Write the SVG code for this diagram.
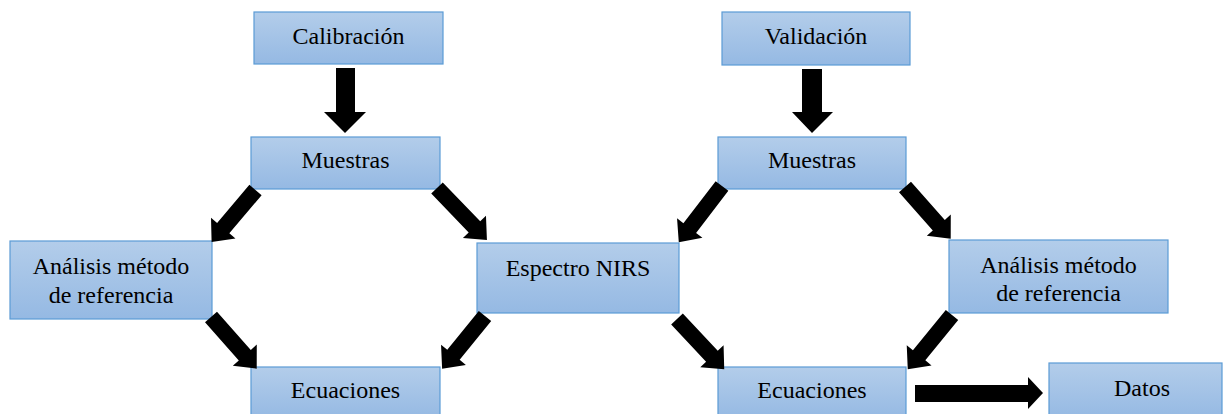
<svg xmlns="http://www.w3.org/2000/svg" width="1225" height="414" viewBox="0 0 1225 414">
<defs>
<linearGradient id="g" x1="0" y1="0" x2="0" y2="1">
<stop offset="0" stop-color="#b3cdea"/>
<stop offset="1" stop-color="#95b9e3"/>
</linearGradient>
<style>
.box{fill:url(#g);stroke:#5b9bd5;stroke-width:1.2}
.t{font-family:"Liberation Serif","Times New Roman",serif;font-size:24px;fill:#000;text-anchor:middle}
.ar{fill:#000}
</style>
</defs>
<rect width="1225" height="414" fill="#fff"/>
<g id="calibracion"><rect class="box" x="254" y="12" width="189" height="52"/><text class="t" x="348.5" y="44">Calibración</text></g>
<g id="muestras1"><rect class="box" x="251" y="137" width="189" height="52"/><text class="t" x="345.5" y="168">Muestras</text></g>
<g id="analisis1"><rect class="box" x="10" y="241" width="202" height="78"/><text class="t" x="111" y="274">Análisis método</text><text class="t" x="111" y="303">de referencia</text></g>
<g id="espectro"><rect class="box" x="477" y="243" width="202" height="70"/><text class="t" x="578" y="276">Espectro NIRS</text></g>
<g id="ecuaciones1"><rect class="box" x="251" y="367" width="189" height="52"/><text class="t" x="345.5" y="398">Ecuaciones</text></g>
<g id="validacion"><rect class="box" x="722" y="12" width="188" height="53"/><text class="t" x="816" y="44">Validación</text></g>
<g id="muestras2"><rect class="box" x="718" y="137" width="188" height="52"/><text class="t" x="812" y="168">Muestras</text></g>
<g id="analisis2"><rect class="box" x="949" y="240" width="219" height="73"/><text class="t" x="1058.5" y="273">Análisis método</text><text class="t" x="1058.5" y="301">de referencia</text></g>
<g id="ecuaciones2"><rect class="box" x="718" y="367" width="188" height="52"/><text class="t" x="812" y="398">Ecuaciones</text></g>
<g id="datos"><rect class="box" x="1049" y="363" width="173" height="56"/><text class="t" x="1142" y="396">Datos</text></g>
<g id="connectors" class="ar">
<path d="M336,68 H355 V112 H366 L345,133 L324,112 H336 Z"/>
<path d="M802,69 H822 V112 H833 L812,133 L792,112 H802 Z"/>
<path d="M915,385 H1028 V377 L1043,393 L1028,409 V402 H915 Z"/>
<path transform="translate(255.5,190) rotate(130.2)" d="M0,-8 H50 V-16 L68,0 L50,16 V8 H0 Z"/>
<path transform="translate(437,188) rotate(46.1)" d="M0,-8 H54 V-16 L72,0 L54,16 V8 H0 Z"/>
<path transform="translate(211,317) rotate(48.5)" d="M0,-8 H51 V-16 L69,0 L51,16 V8 H0 Z"/>
<path transform="translate(485,316) rotate(129.1)" d="M0,-8 H50 V-16 L68,0 L50,16 V8 H0 Z"/>
<path transform="translate(722,186) rotate(127.5)" d="M0,-8 H53 V-16 L71,0 L53,16 V8 H0 Z"/>
<path transform="translate(677,319) rotate(46.8)" d="M0,-8 H51 V-16 L69,0 L51,16 V8 H0 Z"/>
<path transform="translate(905,187) rotate(48.5)" d="M0,-8 H51 V-16 L69,0 L51,16 V8 H0 Z"/>
<path transform="translate(952,315) rotate(129.2)" d="M0,-8 H52 V-16 L70,0 L52,16 V8 H0 Z"/>
</g>
</svg>
